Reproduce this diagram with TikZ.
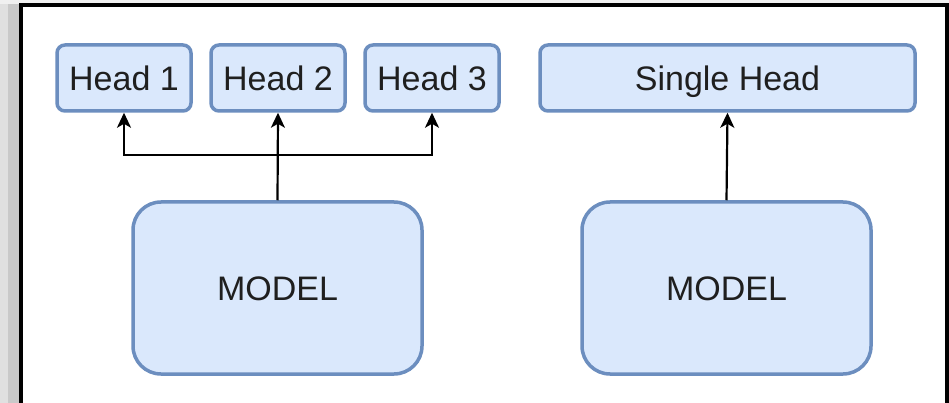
\documentclass[tikz,border=0pt]{standalone}
\usepackage{fontspec}
\setmainfont{Liberation Sans}
\usetikzlibrary{positioning,calc,arrows.meta}
\definecolor{headfill}{HTML}{DAE8FC}
\definecolor{headline}{HTML}{6C8EBF}

\begin{document}
\begin{tikzpicture}[x=1pt,y=-1pt,
  box/.style={draw=headline, fill=headfill, line width=3.5pt, text=black!88,
    font=\fontsize{34}{40}\selectfont, inner sep=0pt, text height=24.4pt, text depth=0pt},
  headbox/.style={box, rounded corners=8pt, minimum height=66pt},
  modelbox/.style={box, rounded corners=28pt, minimum width=289pt, minimum height=172pt},
  link/.style={line width=2.2pt, -{Stealth[length=15pt,width=14pt,inset=4pt]}}]
% shadow and frame
\useasboundingbox (0,0) rectangle (949,403);
\fill[black!6] (0,0) rectangle (949,403);
\fill[black!12] (0,4) rectangle (8,403);
\fill[black!21] (8,4) rectangle (19,403);
\fill[white] (21,5.5) rectangle (947,403);
\draw[line width=4pt] (21,420) -- (21,5.5) -- (947,5.5) -- (947,420);

\node[headbox, minimum width=134pt] (head1) at (124,78) {Head 1};
\node[headbox, minimum width=134pt] (head2) at (278,78) {Head 2};
\node[headbox, minimum width=134pt] (head3) at (432,78) {Head 3};
\node[headbox, minimum width=375pt] (single) at (727.5,78) {Single Head};

\node[modelbox] (modelA) at (277.5,288) {MODEL};
\node[modelbox] (modelB) at (726.5,288) {MODEL};

\coordinate (bus) at (0,155);
\coordinate (split) at (modelA.north |- bus);
\draw[link] (modelA.north) -- (head2.south);
\draw[link] (split) -| (head1.south);
\draw[link] (split) -| (head3.south);
\draw[link] (modelB.north) -- (single.south);
\end{tikzpicture}
\end{document}
